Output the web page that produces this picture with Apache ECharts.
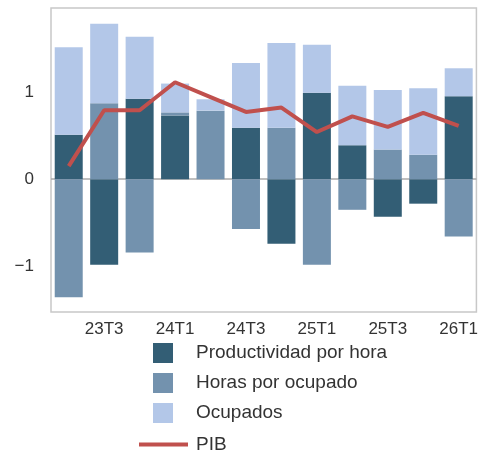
<!DOCTYPE html>
<html>
<head>
<meta charset="utf-8">
<script src="https://cdn.jsdelivr.net/npm/echarts@6/dist/echarts.min.js"></script>
<style>
  html, body { margin: 0; padding: 0; background: #fff; }
  #chart { width: 481px; height: 456px; }
</style>
</head>
<body>
<div id="chart"></div>
<script>
// trimestres
var quarters = ['23T2', '23T3', '23T4', '24T1', '24T2', '24T3', '24T4', '25T1', '25T2', '25T3', '25T4', '26T1'];
// contribuciones (puntos porcentuales)
var productividad = [0.51, -0.98, 0.92, 0.73, 0, 0.59, -0.74, 0.99, 0.39, -0.43, -0.28, 0.95];
var horas = [-1.35, 0.87, -0.84, 0.035, 0.785, -0.57, 0.59, -0.98, -0.35, 0.34, 0.28, -0.655];
var ocupados = [1.00, 0.91, 0.71, 0.33, 0.13, 0.74, 0.97, 0.55, 0.68, 0.68, 0.76, 0.32];
var pib = [0.15, 0.79, 0.79, 1.11, 0.94, 0.77, 0.82, 0.54, 0.72, 0.60, 0.76, 0.61];
var yTicks = [-1, 0, 1];

var font = "'Liberation Sans', Arial, sans-serif";
var colDark = '#335e75', colMid = '#7392ae', colLight = '#b3c7e8', colRed = '#c0504d';

var chart = echarts.init(document.getElementById('chart'));
chart.setOption({
    animation: false,
    grid: {
        left: 51, right: 3, top: 8, bottom: 144,
        show: true, borderColor: '#c8c8c8', borderWidth: 1.5
    },
    legend: [
        {
            data: ['Productividad por hora', 'Horas por ocupado', 'Ocupados'],
            orient: 'vertical', left: 148, top: 338,
            itemWidth: 20, itemHeight: 20, itemGap: 10, icon: 'rect',
            textStyle: { fontFamily: font, fontSize: 19, color: '#333', padding: [0, 0, 0, 18] }
        },
        {
            data: ['PIB'],
            orient: 'vertical', left: 134, top: 430,
            itemWidth: 49, itemHeight: 4, icon: 'rect',
            textStyle: { fontFamily: font, fontSize: 19, color: '#333', padding: [0, 0, 0, 3] }
        }
    ],
    xAxis: {
        type: 'category',
        data: quarters,
        axisLine: { show: false },
        axisTick: { show: false },
        axisLabel: {
            interval: function (idx) { return idx % 2 === 1; },
            fontFamily: font, fontSize: 17, color: '#333', margin: 9
        }
    },
    yAxis: {
        type: 'value',
        min: -1.52, max: 1.96,
        splitLine: { show: false },
        axisLine: { show: false },
        axisTick: { show: false },
        axisLabel: {
            customValues: yTicks,
            formatter: function (v) { return v < 0 ? '\u2212' + Math.abs(v) : String(v); },
            fontFamily: font, fontSize: 17, color: '#333', margin: 17
        }
    },
    series: [
        {
            name: 'Productividad por hora', type: 'bar', stack: 'c',
            data: productividad, barWidth: 28,
            itemStyle: { color: colDark },
            markLine: {
                silent: true, symbol: 'none', z: 1,
                label: { show: false },
                lineStyle: { color: '#aaaaaa', width: 1.5, type: 'solid' },
                data: [{ yAxis: 0 }]
            }
        },
        {
            name: 'Horas por ocupado', type: 'bar', stack: 'c',
            data: horas, barWidth: 28,
            itemStyle: { color: colMid }
        },
        {
            name: 'Ocupados', type: 'bar', stack: 'c',
            data: ocupados, barWidth: 28,
            itemStyle: { color: colLight }
        },
        {
            name: 'PIB', type: 'line', data: pib,
            symbol: 'none', z: 5,
            lineStyle: { color: colRed, width: 4 },
            itemStyle: { color: colRed }
        }
    ]
});
</script>
</body>
</html>
